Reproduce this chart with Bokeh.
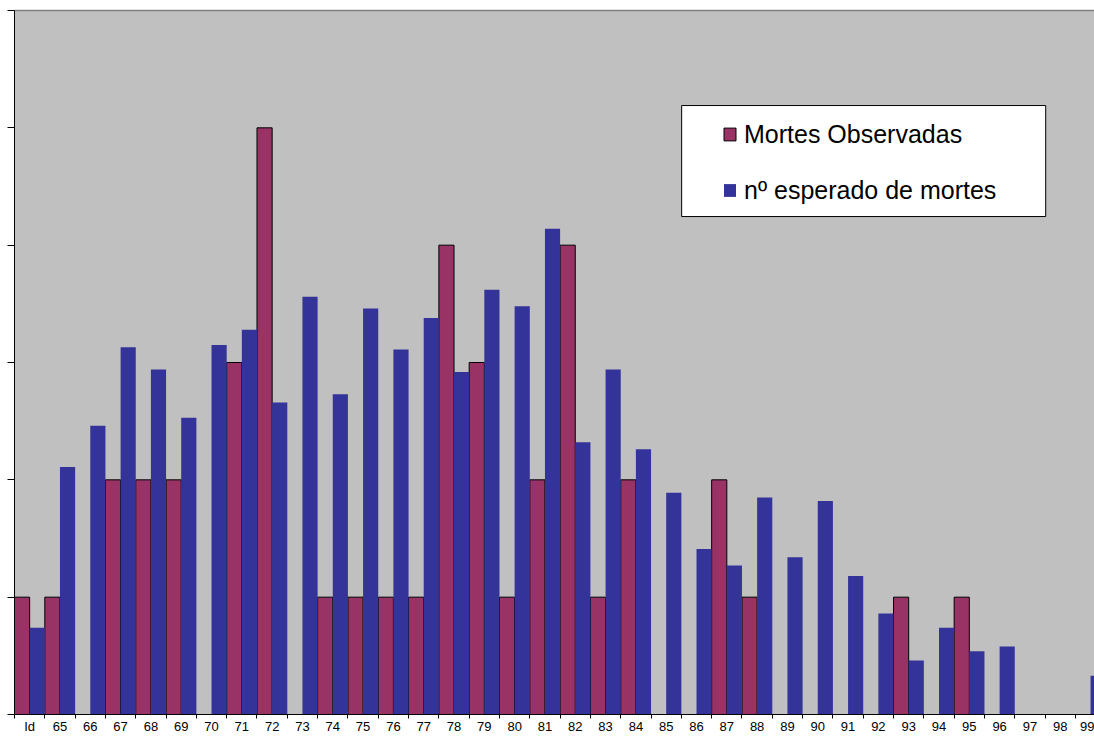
from bokeh.plotting import figure
from bokeh.models import (Range1d, FixedTicker, LinearAxis, Legend, LegendItem,
                          BoxAnnotation, ColumnDataSource)
from bokeh.embed import file_html
from bokeh.resources import INLINE

categories = ["Id"] + [str(a) for a in range(65, 100)]
observed = [1, 1, 0, 2, 2, 2, 0, 3, 5, 0, 1, 1, 1, 1, 4, 3, 1, 2, 4, 1, 2, 0,
            0, 2, 1, 0, 0, 0, 0, 1, 0, 1, 0, 0, 0, 0]
expected = [0.74, 2.11, 2.46, 3.13, 2.94, 2.53, 3.15, 3.28, 2.66, 3.56, 2.73,
            3.46, 3.11, 3.38, 2.92, 3.62, 3.48, 4.14, 2.32, 2.94, 2.26, 1.89,
            1.41, 1.27, 1.85, 1.34, 1.82, 1.18, 0.86, 0.46, 0.74, 0.54, 0.58,
            0.0, 0.0, 0.33]
y_ticks = [0, 1, 2, 3, 4, 5, 6]

idx = list(range(len(categories)))
obs_src = ColumnDataSource(dict(x=[i - 0.25 for i in idx], top=observed))
exp_src = ColumnDataSource(dict(x=[i + 0.25 for i in idx], top=expected))

p = figure(width=1094, height=736, title=None,
           x_range=Range1d(-0.5, 35.13), y_range=Range1d(0, 6),
           output_backend="svg", toolbar_location=None,
           x_axis_type=None, y_axis_type=None,
           min_border_left=14, min_border_right=0,
           min_border_top=10, min_border_bottom=0,
           background_fill_color="#C0C0C0", border_fill_color="white")
p.grid.visible = False
p.outline_line_color = None

r_obs = p.vbar(x="x", top="top", width=0.5, bottom=0, source=obs_src,
               fill_color="#993366", line_color="black", line_width=1)
r_exp = p.vbar(x="x", top="top", width=0.5, bottom=0, source=exp_src,
               fill_color="#333399", line_color=None)

yaxis = LinearAxis(ticker=FixedTicker(ticks=y_ticks, minor_ticks=[]),
                   major_tick_out=7, major_tick_in=0,
                   major_label_overrides={t: "" for t in y_ticks},
                   major_label_standoff=0,
                   axis_line_color="black", major_tick_line_color="black")
p.add_layout(yaxis, "left")

top_axis = LinearAxis(ticker=FixedTicker(ticks=[], minor_ticks=[]),
                      major_tick_out=0, major_tick_in=0, minor_tick_out=0,
                      major_label_standoff=0,
                      axis_line_color="#808080", axis_line_width=1.5)
p.add_layout(top_axis, "above")

xaxis = LinearAxis(ticker=FixedTicker(ticks=idx,
                                      minor_ticks=[i - 0.5 for i in idx] + [len(idx) - 0.5]),
                   major_tick_out=0, major_tick_in=0, major_tick_line_color=None,
                   minor_tick_out=4, minor_tick_in=0, minor_tick_line_color="black",
                   major_label_overrides={i: c for i, c in enumerate(categories)},
                   major_label_text_font="Liberation Sans",
                   major_label_text_font_size="13px",
                   major_label_text_color="black",
                   major_label_standoff=0,
                   axis_line_color="black")
p.add_layout(xaxis, "below")

box = BoxAnnotation(left=21.51, right=33.52, bottom=4.244, top=5.19,
                    fill_color="white", fill_alpha=1.0,
                    line_color="black", line_width=1, line_alpha=1.0)
p.add_layout(box)

legend = Legend(items=[LegendItem(label="Mortes Observadas", renderers=[r_obs]),
                       LegendItem(label="nº esperado de mortes", renderers=[r_exp])],
                location=(708, 506), orientation="vertical",
                glyph_width=15, glyph_height=16, label_standoff=7,
                spacing=20, padding=0, margin=0, label_height=36,
                label_text_font="Liberation Sans", label_text_font_size="25px",
                label_text_color="black",
                border_line_alpha=0, background_fill_alpha=0)
p.add_layout(legend)

open("out.html", "w").write(file_html(p, INLINE))
